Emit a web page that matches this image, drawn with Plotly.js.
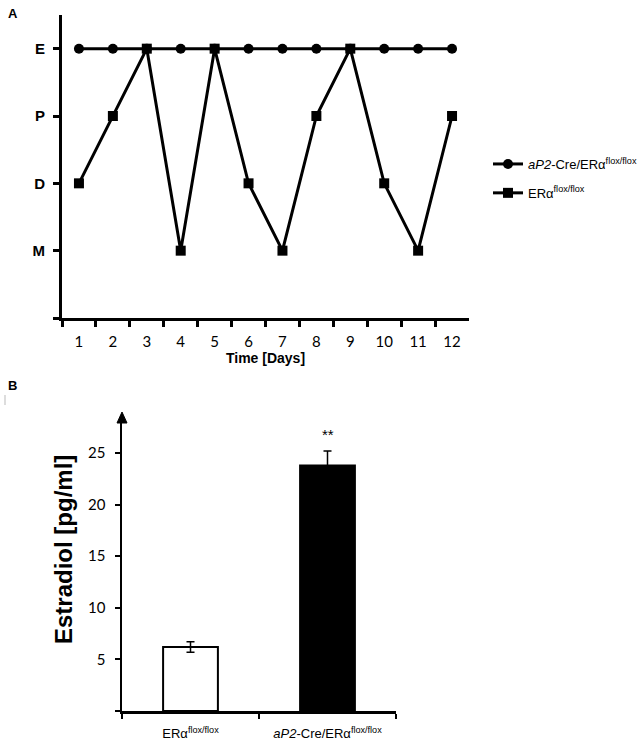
<!DOCTYPE html>
<html>
<head>
<meta charset="utf-8">
<script src="https://cdn.plot.ly/plotly-3.0.1.min.js"></script>
<style>html,body{margin:0;padding:0;background:#fff;}#chart{width:640px;height:742px;}</style>
</head>
<body>
<div id="chart"></div>
<script>
// ---- Panel A data ----
const days = ['1','2','3','4','5','6','7','8','9','10','11','12'];
const stageOrder = ['M','D','P','E'];            // bottom -> top
const aP2Stages  = ['E','E','E','E','E','E','E','E','E','E','E','E'];
const floxStages = ['D','P','E','M','E','D','M','P','E','D','M','P'];
const seriesNamesA = ['<i>aP2</i>-Cre/ERα<sup>flox/flox</sup>', 'ERα<sup>flox/flox</sup>'];

// ---- Panel B data ----
const groupsB = ['ERα<sup>flox/flox</sup>', '<i>aP2</i>-Cre/ERα<sup>flox/flox</sup>'];
const estradiol = [6.2, 23.8];
const estradiolErr = [0.5, 1.4];
const sigLabel = ['', '**'];

const stageIndex = s => stageOrder.indexOf(s) + 1;

const FONT_AR = 'Liberation Sans, Arial, sans-serif';
const FONT_CAL = 'Lato, Open Sans, sans-serif';

const traces = [
  {
    x: days, y: aP2Stages.map(stageIndex), name: seriesNamesA[0], legendgroup: 'g1',
    type: 'scatter', mode: 'lines+markers', xaxis: 'x', yaxis: 'y',
    line: {color: '#000', width: 3}, marker: {symbol: 'circle', size: 10, color: '#000'},
    legendrank: 1, cliponaxis: false
  },
  {
    x: days, y: floxStages.map(stageIndex), name: seriesNamesA[1], legendgroup: 'g2',
    type: 'scatter', mode: 'lines+markers', xaxis: 'x', yaxis: 'y',
    line: {color: '#000', width: 3}, marker: {symbol: 'square', size: 10, color: '#000'},
    legendrank: 2, cliponaxis: false
  },
  {
    x: groupsB, y: estradiol, type: 'bar', xaxis: 'x2', yaxis: 'y2', width: 0.4,
    showlegend: false,
    marker: {color: ['#fff', '#000'], line: {color: '#000', width: 2}},
    error_y: {type: 'data', array: estradiolErr, visible: true, color: '#000', thickness: 1.5, width: 4},
    textposition: 'none', hoverinfo: 'skip'
  }
];

const px2x = p => p / 640;
const px2y = p => 1 - p / 742;

const annotations = [
  {text: '<b>A</b>', xref: 'paper', yref: 'paper', x: px2x(6), y: px2y(4), xanchor: 'left', yanchor: 'top',
   showarrow: false, font: {family: FONT_AR, size: 13, color: '#000'}},
  {text: '<b>B</b>', xref: 'paper', yref: 'paper', x: px2x(6), y: px2y(376), xanchor: 'left', yanchor: 'top',
   showarrow: false, font: {family: FONT_AR, size: 13, color: '#000'}},
  {text: '<b>Estradiol [pg/ml]</b>', xref: 'paper', yref: 'paper', x: px2x(63), y: px2y(550),
   xanchor: 'center', yanchor: 'middle', textangle: -90, showarrow: false,
   font: {family: FONT_AR, size: 24, color: '#000'}}
];
groupsB.forEach((g, i) => {
  if (sigLabel[i]) annotations.push({
    text: sigLabel[i], x: g, y: estradiol[i] + estradiolErr[i], xref: 'x2', yref: 'y2',
    yanchor: 'bottom', yshift: 6, showarrow: false, font: {family: FONT_AR, size: 15, color: '#000'}
  });
});

const layout = {
  width: 640, height: 742,
  margin: {l: 0, r: 0, t: 0, b: 0, autoexpand: false},
  paper_bgcolor: '#fff', plot_bgcolor: 'rgba(0,0,0,0)',
  showlegend: true,
  legend: {
    x: px2x(488), y: px2y(149), xanchor: 'left', yanchor: 'top',
    font: {family: FONT_AR, size: 13, color: '#000'}, bgcolor: 'rgba(0,0,0,0)',
    traceorder: 'grouped', tracegroupgap: 9, itemwidth: 30
  },
  xaxis: {
    domain: [px2x(62), px2x(469)], anchor: 'y', type: 'category', tickson: 'boundaries',
    showline: true, linecolor: '#000', linewidth: 3, ticks: 'outside', ticklen: 6, tickwidth: 3, tickcolor: '#000',
    showgrid: false, zeroline: false, range: [-0.5, 11.5], ticklabelstandoff: 8,
    tickfont: {family: FONT_CAL, size: 15, color: '#000'}, automargin: false,
    title: {text: '<b>Time [Days]</b>', font: {family: FONT_AR, size: 14, color: '#000'}, standoff: 4}
  },
  yaxis: {
    domain: [px2y(318), px2y(15)], anchor: 'x', range: [0, 4.5],
    tickvals: [0, 1, 2, 3, 4], ticktext: [''].concat(stageOrder.map(s => '<b>' + s + '</b>')),
    showline: true, linecolor: '#000', linewidth: 3, ticks: 'outside', ticklen: 6, tickwidth: 3, tickcolor: '#000',
    showgrid: false, zeroline: false, ticklabelstandoff: 5, automargin: false,
    tickfont: {family: FONT_AR, size: 15, color: '#000'}
  },
  xaxis2: {
    domain: [px2x(122), px2x(396)], anchor: 'y2', type: 'category', tickson: 'boundaries',
    range: [-0.5, 1.5],
    showline: true, linecolor: '#000', linewidth: 2.5, ticks: 'outside', ticklen: 5, tickwidth: 2, tickcolor: '#000',
    showgrid: false, zeroline: false, ticklabelstandoff: 9, automargin: false,
    tickfont: {family: FONT_AR, size: 13, color: '#000'}
  },
  yaxis2: {
    domain: [px2y(711), px2y(420)], anchor: 'x2', range: [0, 28.2],
    tickvals: [0, 5, 10, 15, 20, 25], ticktext: ['', '5', '10', '15', '20', '25'],
    showline: true, linecolor: '#000', linewidth: 2.5, ticks: 'outside', ticklen: 5, tickwidth: 2, tickcolor: '#000',
    showgrid: false, zeroline: false, ticklabelstandoff: 6, automargin: false,
    tickfont: {family: FONT_CAL, size: 15, color: '#000'}
  },
  shapes: [
    {type: 'path', xref: 'paper', yref: 'paper',
     path: `M ${px2x(117)} ${px2y(423)} L ${px2x(127)} ${px2y(423)} L ${px2x(122)} ${px2y(412)} Z`,
     fillcolor: '#000', line: {color: '#000', width: 1}},
    {type: 'line', xref: 'paper', yref: 'paper', x0: px2x(5), x1: px2x(5), y0: px2y(395), y1: px2y(405),
     line: {color: '#bbb', width: 1}}
  ],
  annotations: annotations
};

Plotly.newPlot('chart', traces, layout, {displayModeBar: false, staticPlot: true});
</script>
</body>
</html>
